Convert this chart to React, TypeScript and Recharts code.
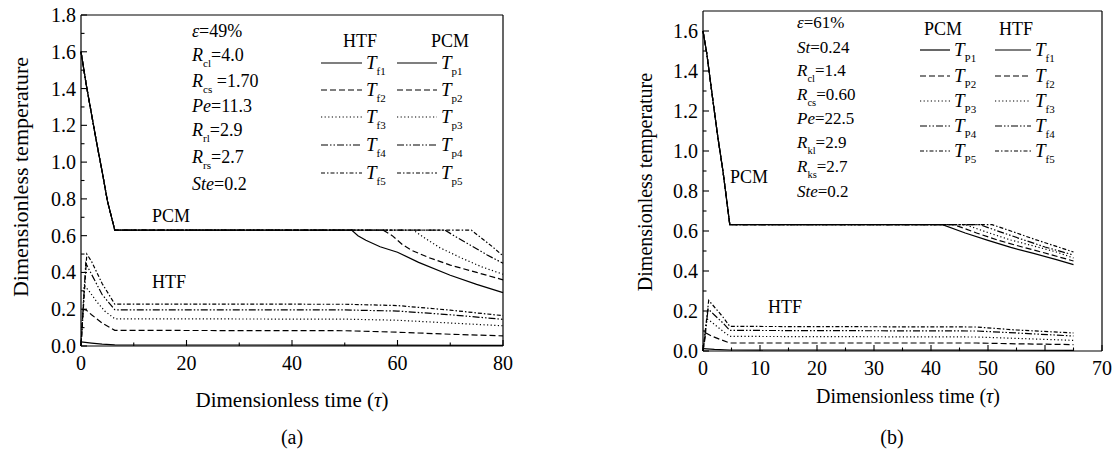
import React from 'react';
import { LineChart, Line, XAxis, YAxis } from 'recharts';

type Pt = [number, number];

// ---------- panel (a) ----------
const aTicksX = [0, 10, 20, 30, 40, 50, 60, 70, 80];
const aTicksY = [0, 0.1, 0.2, 0.3, 0.4, 0.5, 0.6, 0.7, 0.8, 0.9, 1.0, 1.1, 1.2, 1.3, 1.4, 1.5, 1.6, 1.7, 1.8];

const aTp1: Pt[] = [[0, 1.6], [1, 1.42], [2, 1.26], [3, 1.1], [4, 0.95], [5, 0.79], [6.4, 0.63], [51.3, 0.63], [52.5, 0.6], [54, 0.575], [56.7, 0.54], [60, 0.51], [64, 0.455], [70, 0.385], [75, 0.335], [80, 0.29]];
const aTp2: Pt[] = [[0, 1.6], [1, 1.42], [2, 1.26], [3, 1.1], [4, 0.95], [5, 0.79], [6.4, 0.63], [57.3, 0.63], [59, 0.6], [61, 0.55], [62.7, 0.52], [66, 0.48], [70, 0.44], [75, 0.4], [80, 0.36]];
const aTp3: Pt[] = [[0, 1.6], [1, 1.42], [2, 1.26], [3, 1.1], [4, 0.95], [5, 0.79], [6.4, 0.63], [63, 0.63], [65, 0.59], [68, 0.535], [72, 0.48], [76, 0.43], [80, 0.39]];
const aTp4: Pt[] = [[0, 1.6], [1, 1.42], [2, 1.26], [3, 1.1], [4, 0.95], [5, 0.79], [6.4, 0.63], [69, 0.63], [71, 0.595], [74, 0.545], [77, 0.495], [80, 0.45]];
const aTp5: Pt[] = [[0, 1.6], [1, 1.42], [2, 1.26], [3, 1.1], [4, 0.95], [5, 0.79], [6.4, 0.63], [74, 0.63], [76, 0.585], [78, 0.54], [80, 0.49]];

const aTf1: Pt[] = [[0, 0.022], [2, 0.016], [4, 0.01], [6.4, 0.006], [50, 0.005], [80, 0.003]];
const aTf2: Pt[] = [[0, 0], [0.4, 0.2], [1, 0.195], [2, 0.17], [4, 0.125], [6.4, 0.085], [50, 0.083], [60, 0.075], [70, 0.064], [80, 0.055]];
const aTf3: Pt[] = [[0, 0], [0.6, 0.33], [1.5, 0.3], [3, 0.24], [4.5, 0.19], [6.4, 0.148], [50, 0.146], [60, 0.14], [70, 0.125], [80, 0.11]];
const aTf4: Pt[] = [[0, 0], [0.9, 0.45], [2, 0.39], [4, 0.28], [6.4, 0.197], [50, 0.196], [60, 0.19], [70, 0.17], [80, 0.145]];
const aTf5: Pt[] = [[0, 0], [1.1, 0.5], [2, 0.46], [4, 0.34], [6.4, 0.228], [50, 0.227], [60, 0.22], [70, 0.195], [80, 0.165]];

// ---------- panel (b) ----------
const bTicksX = [0, 5, 10, 15, 20, 25, 30, 35, 40, 45, 50, 55, 60, 65, 70];
const bTicksY = [0, 0.1, 0.2, 0.3, 0.4, 0.5, 0.6, 0.7, 0.8, 0.9, 1.0, 1.1, 1.2, 1.3, 1.4, 1.5, 1.6];

const bTp1: Pt[] = [[0, 1.6], [0.65, 1.49], [1.75, 1.25], [2.6, 1.07], [3.5, 0.9], [4.7, 0.632], [42, 0.632], [46, 0.59], [50, 0.553], [54, 0.518], [58, 0.488], [62, 0.457], [65, 0.432]];
const bTp2: Pt[] = [[0, 1.6], [0.65, 1.49], [1.75, 1.25], [2.6, 1.07], [3.5, 0.9], [4.7, 0.632], [44, 0.632], [48, 0.59], [52, 0.552], [56, 0.52], [60, 0.49], [65, 0.45]];
const bTp3: Pt[] = [[0, 1.6], [0.65, 1.49], [1.75, 1.25], [2.6, 1.07], [3.5, 0.9], [4.7, 0.632], [46, 0.632], [50, 0.592], [54, 0.555], [58, 0.525], [62, 0.495], [65, 0.465]];
const bTp4: Pt[] = [[0, 1.6], [0.65, 1.49], [1.75, 1.25], [2.6, 1.07], [3.5, 0.9], [4.7, 0.632], [48.5, 0.632], [52, 0.597], [56, 0.558], [60, 0.52], [65, 0.48]];
const bTp5: Pt[] = [[0, 1.6], [0.65, 1.49], [1.75, 1.25], [2.6, 1.07], [3.5, 0.9], [4.7, 0.632], [50.7, 0.632], [54, 0.6], [58, 0.56], [62, 0.523], [65, 0.495]];

const bTf1: Pt[] = [[0, 0.012], [2, 0.008], [4.7, 0.005], [50, 0.004], [65, 0.003]];
const bTf2: Pt[] = [[0, 0], [0.5, 0.09], [1.5, 0.075], [3, 0.058], [4.7, 0.04], [48, 0.04], [55, 0.036], [65, 0.032]];
const bTf3: Pt[] = [[0, 0], [0.7, 0.16], [1.5, 0.145], [3, 0.11], [4.7, 0.073], [48, 0.07], [55, 0.063], [65, 0.053]];
const bTf4: Pt[] = [[0, 0], [0.9, 0.21], [2, 0.18], [3.5, 0.14], [4.7, 0.103], [48, 0.1], [55, 0.09], [65, 0.075]];
const bTf5: Pt[] = [[0, 0], [1, 0.253], [2, 0.22], [3.5, 0.17], [4.7, 0.123], [48, 0.12], [55, 0.105], [65, 0.09]];

const aParams = [['ε', '', '=49%'], ['R', 'cl', '=4.0'], ['R', 'cs', ' =1.70'], ['Pe', '', '=11.3'], ['R', 'rl', '=2.9'], ['R', 'rs', '=2.7'], ['Ste', '', '=0.2']];
const bParams = [['ε', '', '=61%'], ['St', '', '=0.24'], ['R', 'cl', '=1.4'], ['R', 'cs', '=0.60'], ['Pe', '', '=22.5'], ['R', 'kl', '=2.9'], ['R', 'ks', '=2.7'], ['Ste', '', '=0.2']];

// line styles: 1 solid, 2 dashed, 3 dotted, 4 dash-dot-dot, 5 dash-dot
const DASHES = ['', '6 3', '1.2 2.4', '7 2 1.5 2 1.5 2', '4 2 1.5 2'];
const FONT = "'Liberation Serif', 'DejaVu Serif', serif";
const TXT = { fontFamily: FONT, fill: '#000' };

const rows = (pts: Pt[]) => pts.map(([t, v]) => ({ t, v }));
const isMajor = (v: number, step: number) => Math.abs(v / step - Math.round(v / step)) < 1e-6;

const bottomTick = (step: number) => (props: any) => {
  const { x, y, payload } = props;
  const m = isMajor(payload.value, step);
  return (
    <g>
      <line x1={x} x2={x} y1={y} y2={y - (m ? 6 : 3.5)} stroke="#000" strokeWidth={1.1} />
      {m && (
        <text x={x} y={y + 24} textAnchor="middle" style={{ ...TXT, fontSize: 20 }}>
          {String(payload.value)}
        </text>
      )}
    </g>
  );
};

const leftTick = (step: number) => (props: any) => {
  const { x, y, payload } = props;
  const m = isMajor(payload.value, step);
  return (
    <g>
      <line x1={x} x2={x + (m ? 6 : 3.5)} y1={y} y2={y} stroke="#000" strokeWidth={1.1} />
      {m && (
        <text x={x - 5} y={y} dy="0.35em" textAnchor="end" style={{ ...TXT, fontSize: 20 }}>
          {payload.value.toFixed(1)}
        </text>
      )}
    </g>
  );
};

const topTick = (props: any) => {
  const { x, y } = props;
  return <line x1={x} x2={x} y1={y} y2={y + 5} stroke="#000" strokeWidth={1.1} />;
};

const rightTick = (props: any) => {
  const { x, y } = props;
  return <line x1={x} x2={x + 3} y1={y} y2={y} stroke="#000" strokeWidth={1.1} />;
};

interface PanelProps {
  left: number;
  width: number;
  height: number;
  margin: { top: number; right: number; bottom: number; left: number };
  yWidth: number;
  xDomain: [number, number];
  yDomain: [number, number];
  xTicks: number[];
  yTicks: number[];
  xStep: number;
  pcm: Pt[][];
  htf: Pt[][];
  mirrorTicks: boolean;
}

function Panel(p: PanelProps) {
  const axisLine = { stroke: '#000', strokeWidth: 1.2 };
  return (
    <div style={{ position: 'absolute', left: p.left, top: 0 }}>
      <LineChart width={p.width} height={p.height} margin={p.margin}>
        <XAxis
          type="number"
          dataKey="t"
          domain={p.xDomain}
          ticks={p.xTicks}
          interval={0}
          height={30}
          tickSize={0}
          tickMargin={0}
          tickLine={false}
          axisLine={axisLine}
          tick={bottomTick(p.xStep)}
        />
        <XAxis
          xAxisId="top"
          orientation="top"
          type="number"
          domain={p.xDomain}
          ticks={p.xTicks}
          interval={0}
          height={1}
          tickSize={0}
          tickMargin={0}
          tickLine={false}
          axisLine={axisLine}
          tick={p.mirrorTicks ? topTick : false}
        />
        <YAxis
          type="number"
          domain={p.yDomain}
          ticks={p.yTicks}
          interval={0}
          width={p.yWidth}
          tickSize={0}
          tickMargin={0}
          tickLine={false}
          axisLine={axisLine}
          tick={leftTick(0.2)}
        />
        <YAxis
          yAxisId="right"
          orientation="right"
          type="number"
          domain={p.yDomain}
          ticks={p.yTicks}
          interval={0}
          width={1}
          tickSize={0}
          tickMargin={0}
          tickLine={false}
          axisLine={axisLine}
          tick={p.mirrorTicks ? rightTick : false}
        />
        {p.pcm.map((s, i) => (
          <Line
            key={`p${i}`}
            data={rows(s)}
            dataKey="v"
            type="linear"
            stroke="#000"
            strokeWidth={1.2}
            strokeDasharray={DASHES[i] || undefined}
            dot={false}
            activeDot={false}
            isAnimationActive={false}
          />
        ))}
        {p.htf.map((s, i) => (
          <Line
            key={`f${i}`}
            data={rows(s)}
            dataKey="v"
            type="linear"
            stroke="#000"
            strokeWidth={1.2}
            strokeDasharray={DASHES[i] || undefined}
            dot={false}
            activeDot={false}
            isAnimationActive={false}
          />
        ))}
      </LineChart>
    </div>
  );
}

function ParamText({ x, y, item, size }: { x: number; y: number; item: string[]; size: number }) {
  const [sym, sub, rest] = item;
  return (
    <text x={x} y={y} style={{ ...TXT, fontSize: size }}>
      <tspan style={{ fontStyle: 'italic' }}>{sym}</tspan>
      {sub ? (
        <>
          <tspan style={{ fontSize: size * 0.62 }} dy={6}>{sub}</tspan>
          <tspan dy={-6}>{rest}</tspan>
        </>
      ) : (
        <tspan>{rest}</tspan>
      )}
    </text>
  );
}

function LegendRow({ x1, x2, y, dash, sub }: { x1: number; x2: number; y: number; dash: string; sub: string }) {
  return (
    <g>
      <line x1={x1} x2={x2} y1={y} y2={y} stroke="#000" strokeWidth={1.2} strokeDasharray={dash || undefined} />
      <text x={x2 + 4} y={y + 6} style={{ ...TXT, fontSize: 19 }}>
        <tspan style={{ fontStyle: 'italic' }}>T</tspan>
        <tspan style={{ fontSize: 11 }} dy={6}>{sub}</tspan>
      </text>
    </g>
  );
}

export default function App() {
  const aRowsY = [63, 90, 117, 145, 173];
  const bRowsY = [50, 76, 101, 126, 151];
  const aParamY = [37, 61, 87, 112, 136, 163, 190];
  const bParamY = [28, 53, 76, 100, 124, 148, 172, 197];
  return (
    <div style={{ position: 'absolute', left: 0, top: 0, width: 1117, height: 453, background: '#fff' }}>
      <Panel
        left={0}
        width={520}
        height={376}
        margin={{ top: 14, right: 16, bottom: 0, left: 40 }}
        yWidth={41}
        xDomain={[0, 80]}
        yDomain={[0, 1.8]}
        xTicks={aTicksX}
        yTicks={aTicksY}
        xStep={20}
        pcm={[aTp1, aTp2, aTp3, aTp4, aTp5]}
        htf={[aTf1, aTf2, aTf3, aTf4, aTf5]}
        mirrorTicks
      />
      <Panel
        left={600}
        width={517}
        height={381}
        margin={{ top: 10, right: 14, bottom: 0, left: 60 }}
        yWidth={43}
        xDomain={[0, 70]}
        yDomain={[0, 1.7]}
        xTicks={bTicksX}
        yTicks={bTicksY}
        xStep={10}
        pcm={[bTp1, bTp2, bTp3, bTp4, bTp5]}
        htf={[bTf1, bTf2, bTf3, bTf4, bTf5]}
        mirrorTicks={false}
      />
      <svg width={1117} height={453} style={{ position: 'absolute', left: 0, top: 0, pointerEvents: 'none' }}>
        {/* axis titles */}
        <text x={28} y={177} transform="rotate(-90 28 177)" textAnchor="middle" style={{ ...TXT, fontSize: 22 }}>
          Dimensionless temperature
        </text>
        <text x={292} y={407} textAnchor="middle" style={{ ...TXT, fontSize: 21 }}>
          Dimensionless time (<tspan style={{ fontStyle: 'italic' }}>τ</tspan>)
        </text>
        <text x={292} y={444} textAnchor="middle" style={{ ...TXT, fontSize: 20 }}>(a)</text>
        <text x={652} y={182} transform="rotate(-90 652 182)" textAnchor="middle" style={{ ...TXT, fontSize: 20 }}>
          Dimensionless temperature
        </text>
        <text x={908} y={403} textAnchor="middle" style={{ ...TXT, fontSize: 20 }}>
          Dimensionless time (<tspan style={{ fontStyle: 'italic' }}>τ</tspan>)
        </text>
        <text x={892} y={444} textAnchor="middle" style={{ ...TXT, fontSize: 20 }}>(b)</text>

        {/* panel (a) annotations */}
        {aParams.map((it, i) => (
          <ParamText key={`ap${i}`} x={192} y={aParamY[i]} item={it} size={18} />
        ))}
        <text x={360} y={47} textAnchor="middle" style={{ ...TXT, fontSize: 18 }}>HTF</text>
        <text x={450} y={47} textAnchor="middle" style={{ ...TXT, fontSize: 18 }}>PCM</text>
        {aRowsY.map((y, i) => (
          <LegendRow key={`af${i}`} x1={321} x2={362} y={y} dash={DASHES[i]} sub={`f${i + 1}`} />
        ))}
        {aRowsY.map((y, i) => (
          <LegendRow key={`apl${i}`} x1={397} x2={437} y={y} dash={DASHES[i]} sub={`p${i + 1}`} />
        ))}
        <text x={152} y={222} style={{ ...TXT, fontSize: 18 }}>PCM</text>
        <text x={152} y={288} style={{ ...TXT, fontSize: 18 }}>HTF</text>

        {/* panel (b) annotations */}
        {bParams.map((it, i) => (
          <ParamText key={`bp${i}`} x={797} y={bParamY[i]} item={it} size={17} />
        ))}
        <text x={943} y={35} textAnchor="middle" style={{ ...TXT, fontSize: 18 }}>PCM</text>
        <text x={1016} y={35} textAnchor="middle" style={{ ...TXT, fontSize: 18 }}>HTF</text>
        {bRowsY.map((y, i) => (
          <LegendRow key={`bpl${i}`} x1={920} x2={950} y={y} dash={DASHES[i]} sub={`P${i + 1}`} />
        ))}
        {bRowsY.map((y, i) => (
          <LegendRow key={`bf${i}`} x1={995} x2={1031} y={y} dash={DASHES[i]} sub={`f${i + 1}`} />
        ))}
        <text x={730} y={183} style={{ ...TXT, fontSize: 18 }}>PCM</text>
        <text x={768} y={313} style={{ ...TXT, fontSize: 18 }}>HTF</text>
      </svg>
    </div>
  );
}
